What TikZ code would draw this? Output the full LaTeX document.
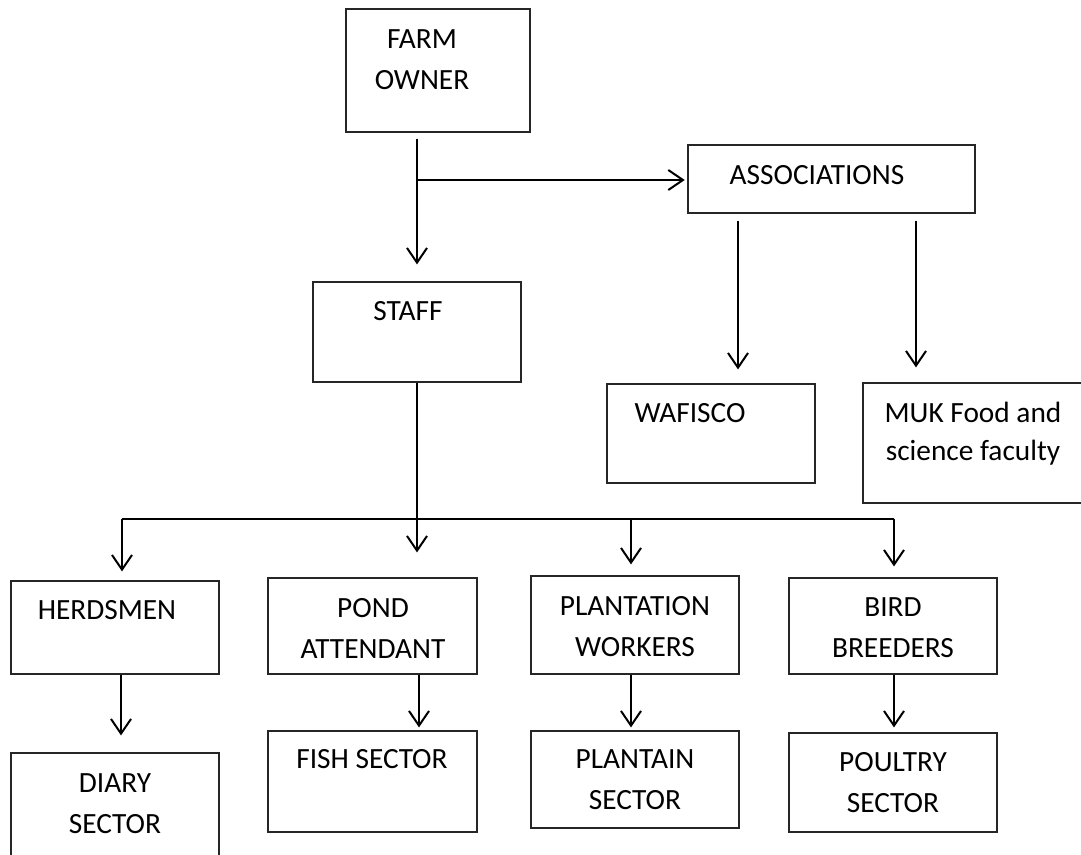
\documentclass[tikz,border=0pt]{standalone}
\usepackage{fontspec}
\setmainfont{Carlito}
\usetikzlibrary{arrows.meta}

\begin{document}
\begin{tikzpicture}[x=0.75pt,y=-0.75pt,
	box/.style 2 args={draw=black!85,line width=0.9pt,inner sep=0pt,minimum width=#1*0.75pt,minimum height=#2*0.75pt},
	txt/.style={font=\fontsize{22}{30.75}\selectfont,align=center,inner sep=0pt,anchor=base},
	arr/.style={line width=1.5pt,-{Straight Barb[length=11pt,width=15pt]}}]
	\useasboundingbox (0,0) rectangle (1081,854);
	%    boxes
	\node[box={184}{123}] (owner) at (438,70.5) {};
	\node[box={287}{68}] (assoc) at (831.5,179) {};
	\node[box={208}{100}] (staff) at (417,332) {};
	\node[box={208}{99}] (wafisco) at (711,433.5) {};
	\node[box={232}{120}] (muk) at (979,443) {};
	\node[box={208}{93}] (herds) at (115,627.5) {};
	\node[box={209}{96}] (pond) at (372.5,626) {};
	\node[box={208}{98}] (plant) at (635,625) {};
	\node[box={208}{96}] (bird) at (893,626) {};
	\node[box={208}{117}] (diary) at (115,811.5) {};
	\node[box={209}{101}] (fish) at (372.5,781.5) {};
	\node[box={208}{97}] (plantain) at (635,779.5) {};
	\node[box={208}{99}] (poultry) at (893,782.5) {};
	%    texts (base = last line)
	\node[txt] (owner-t) at (422,89) {FARM\\OWNER};
	\node[txt] (assoc-t) at (817,184) {ASSOCIATIONS};
	\node[txt] (staff-t) at (408,320) {STAFF};
	\node[txt] (wafisco-t) at (690,422) {WAFISCO};
	\node[txt] (muk-t) at (973,460) {MUK Food and\\[-2.25pt]science faculty};
	\node[txt] (herds-t) at (107,619) {HERDSMEN};
	\node[txt] (pond-t) at (373,658) {POND\\ATTENDANT};
	\node[txt] (plant-t) at (635,656) {PLANTATION\\WORKERS};
	\node[txt] (bird-t) at (893,657) {BIRD\\BREEDERS};
	\node[txt] (diary-t) at (115,833) {DIARY\\SECTOR};
	\node[txt] (fish-t) at (372,768) {FISH SECTOR};
	\node[txt] (plantain-t) at (635,809) {PLANTAIN\\SECTOR};
	\node[txt] (poultry-t) at (893,812) {POULTRY\\SECTOR};
	%    connectors
	\coordinate (j1) at (418,180);
	\coordinate (c-waf) at (738,0);
	\coordinate (c-muk) at (916,0);
	\coordinate (c-herd) at (121,0);
	\coordinate (c-staff) at (419,0);
	\coordinate (c-plant) at (631,0);
	\coordinate (busL) at (122,519);
	\coordinate (busR) at (894,519);
	\draw[arr,shorten <=4.5pt,shorten >=12.75pt] (owner.south -| staff.north) -- (staff.north);
	\draw[arr,shorten >=2pt] (j1) -- (j1 -| assoc.west);
	\draw[arr,shorten <=5.25pt,shorten >=10.5pt] (assoc.south -| c-waf) -- (wafisco.north -| c-waf);
	\draw[arr,shorten <=5.25pt,shorten >=11.25pt] (assoc.south -| c-muk) -- (muk.north -| c-muk);
	\draw[line width=1.5pt] (busL) -- (busR);
	\draw[arr,shorten >=18.75pt] (staff.south) -- (staff.south |- pond.north);
	\draw[arr,shorten >=6.75pt] (busL) -- (busL |- herds.north);
	\draw[arr,shorten >=8.25pt] (c-plant |- busL) -- (c-plant |- plant.north);
	\draw[arr,shorten >=8.25pt] (busR) -- (busR |- bird.north);
	\draw[arr,shorten >=12.75pt] (herds.south -| c-herd) -- (diary.north -| c-herd);
	\draw[arr,shorten >=2.25pt] (pond.south -| c-staff) -- (fish.north -| c-staff);
	\draw[arr,shorten >=2.25pt] (plant.south -| c-plant) -- (plantain.north -| c-plant);
	\draw[arr,shorten >=3.75pt] (bird.south -| busR) -- (poultry.north -| busR);
\end{tikzpicture}
\end{document}
